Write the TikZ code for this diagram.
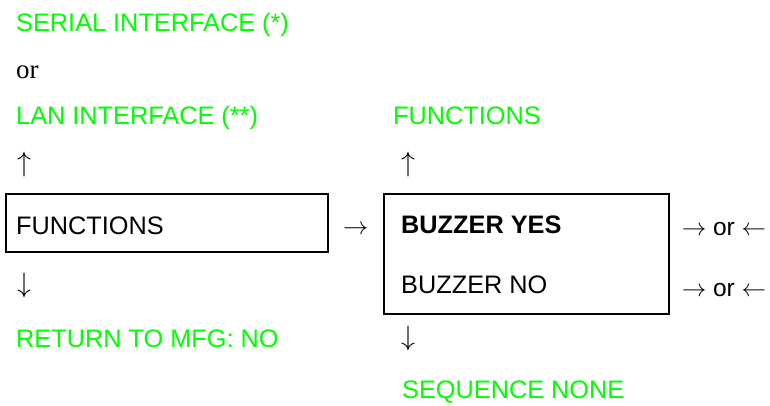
\RequirePackage{fix-cm}
\documentclass[tikz,border=0pt]{standalone}
\usepackage{fontspec}
\setmainfont{Liberation Sans}
\newfontfamily\serifrm{Liberation Serif}
\definecolor{lgreen}{RGB}{0,255,0}
\begin{document}
\begin{tikzpicture}[x=1pt,y=-1pt,
  txt/.style={anchor=base west, inner sep=0pt, font=\fontsize{25.3}{30}\selectfont},
  grn/.style={txt, text=lgreen},
  arr/.style={anchor=center, inner sep=0pt, font=\fontsize{28}{30}\selectfont},
  oror/.style={anchor=center, inner sep=0pt, font=\fontsize{24.5}{30}\selectfont},
  box/.style={draw, line width=2.4pt, anchor=north west, inner sep=0pt}]
\useasboundingbox (0,0) rectangle (770,406);
\node[grn] (serial) at (16,31.7) {SERIAL INTERFACE (*)};
\node[txt, font=\serifrm\fontsize{27}{30}\selectfont] (or) at (16,79) {or};
\node[grn] (lan) at (16,125) {LAN INTERFACE (**)};
\node[grn] (fntop) at (393,125) {FUNCTIONS};
\node[arr] (upL) at (24,164.5) {$\uparrow$};
\node[arr] (upR) at (408,164.5) {$\uparrow$};
\node[box, minimum width=322pt, minimum height=58pt] (box1) at (5,193) {};
\node[box, minimum width=285pt, minimum height=120pt] (box2) at (383,193) {};
\node[txt] (fn) at (16,234) {FUNCTIONS};
\node[arr, font=\fontsize{25}{30}\selectfont] (mid) at (355.5,230) {$\rightarrow$};
\node[txt] (yes) at (401,233) {\bfseries BUZZER YES};
\node[txt] (no) at (401,293) {BUZZER NO};
\node[oror] (or1) at (724,229) {$\rightarrow$ or $\leftarrow$};
\node[oror] (or2) at (724,290) {$\rightarrow$ or $\leftarrow$};
\node[arr] (dnL) at (24,285) {$\downarrow$};
\node[arr] (dnR) at (408,338.5) {$\downarrow$};
\node[grn] (ret) at (16,347) {RETURN TO MFG: NO};
\node[grn] (seq) at (402,398) {SEQUENCE NONE};
\end{tikzpicture}
\end{document}
